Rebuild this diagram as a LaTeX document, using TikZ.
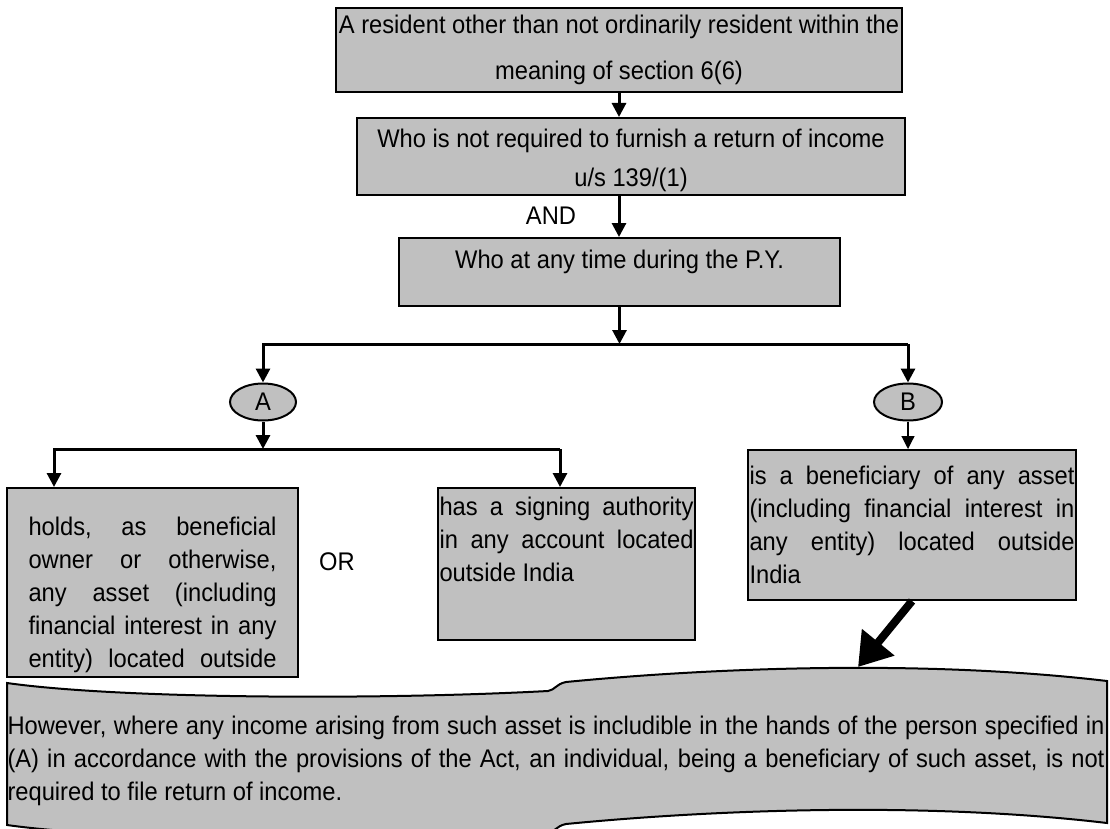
\documentclass[tikz,border=0pt]{standalone}
\usepackage{fontspec}
\setmainfont{Liberation Sans}[FakeStretch=0.93]
\usepackage{tikz}
\usetikzlibrary{arrows.meta,shapes.geometric,positioning}
\definecolor{boxgray}{RGB}{192,192,192}
\setlength{\parindent}{0pt}
\newcommand{\boxfont}{\fontsize{25.5}{33}\selectfont\tolerance=10000\hyphenpenalty=10000}

\begin{document}
\begin{tikzpicture}[x=1pt,y=-1pt,
    box/.style={draw,fill=boxgray,line width=2pt,font=\boxfont,
                inner xsep=1.5pt,inner ysep=0pt},
    jbox/.style={box,align=justify},
    oval/.style={ellipse,draw,fill=boxgray,line width=2pt,minimum width=66pt,
                 minimum height=37pt,inner sep=0pt,font=\boxfont},
    arr/.style={-{Triangle[width=14pt,length=14pt]},line width=3pt},
    thinarr/.style={-{Triangle[width=13pt,length=13pt]},line width=1.2pt},
    bigarr/.style={-{Triangle[width=40pt,length=32pt]},line width=8pt},
    lbl/.style={font=\boxfont,inner sep=0pt},
  ]
    \useasboundingbox (0,0) rectangle (1110,829);
    % top chain
    \node[box,align=center,minimum width=566pt,minimum height=84pt](res) at (619,50)
      {A resident other than not ordinarily resident within the\\[13pt]
       meaning of section 6(6)};
    \node[box,align=center,minimum width=548pt,minimum height=77pt](noreturn) at (631,156.5)
      {\rule{0pt}{26pt}Who is not required to furnish a return of income\\[6pt]
       u/s 139/(1)};
    \node[box,minimum width=441pt,minimum height=68pt,text depth=26pt](py) at (619.5,272)
      {Who at any time during the P.Y.};
    \node[lbl](and) at (551,216){AND};
    \draw[arr](res.south)--(res.south |- noreturn.north);
    \draw[arr](noreturn.south -| res.south)--(res.south |- py.north);
    % split A / B
    \node[oval](ellA) at (263,402){A};
    \node[oval,minimum width=68pt](ellB) at (908,402){B};
    \coordinate (forkB) at (908,344);
    \draw[arr](py.south)--(py.south |- forkB);
    \draw[arr](forkB)-|(ellA.north);
    \draw[arr](forkB)--(ellB.north);
    % A branch
    \node[jbox,text width=248pt,inner xsep=21.5pt,minimum height=189pt](holds) at (152.5,582.5)
      {holds,\rule{0pt}{43pt} as beneficial\linebreak
       owner or otherwise,\linebreak any asset (including\linebreak
       financial interest in any\linebreak \makebox[248pt][s]{entity) located outside}};
    \node[jbox,text width=254pt,minimum height=152pt](signing) at (566.5,564)
      {has a signing authority\linebreak in any account located\linebreak
       outside India\rule[-50pt]{0pt}{0pt}};
    \node[lbl](or) at (337,562){OR};
    \coordinate (forkM) at (560,449);
    \draw[arr](ellA.south)--(ellA.south |- forkM);
    \draw[arr](forkM)-|([xshift=48pt]holds.north west);
    \draw[arr](forkM)--(forkM |- signing.north);
    % B branch
    \node[jbox,text width=325pt,minimum height=150pt](benef) at (912,525)
      {is a beneficiary of any asset\linebreak (including financial interest in\linebreak
       any entity) located outside\linebreak India};
    \draw[thinarr](ellB.south)--(ellB.south |- benef.north);
    % proviso scroll
    \draw[fill=boxgray,line width=2pt]
      (7,683) .. controls (120,699) and (380,700) .. (548,691)
      .. controls (555,690) and (556,684) .. (566,682)
      .. controls (720,667) and (930,660) .. (1107,681)
      -- (1107,823)
      .. controls (930,802) and (720,809) .. (566,824)
      .. controls (556,826) and (555,832) .. (548,833)
      .. controls (380,842) and (120,841) .. (7,825) -- cycle;
    \node[lbl,text width=1097pt,align=justify](proviso) at (556,761)
      {However, where any income arising from such asset is includible in the hands of the person specified in\linebreak
       (A) in accordance with the provisions of the Act, an individual, being a beneficiary of such asset, is not\linebreak
       required to file return of income.};
    \coordinate (scrolltop) at (858,667);
    \draw[bigarr](benef.south)--(scrolltop);
\end{tikzpicture}
\end{document}
